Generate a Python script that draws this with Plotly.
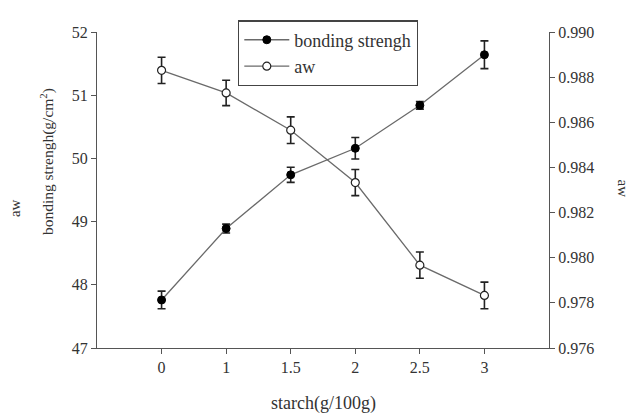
import plotly.graph_objects as go

categories = ["0", "1", "1.5", "2", "2.5", "3"]
bonding = [47.76, 48.89, 49.74, 50.16, 50.84, 51.64]
bonding_err = [0.14, 0.07, 0.12, 0.17, 0.06, 0.22]
aw = [0.98830, 0.98730, 0.98565, 0.98333, 0.97967, 0.97833]
aw_err = [0.00058, 0.00056, 0.00059, 0.00058, 0.00058, 0.00059]

left_ticks = [47, 48, 49, 50, 51, 52]
right_ticks = [0.976, 0.978, 0.980, 0.982, 0.984, 0.986, 0.988, 0.990]

FONT = "Liberation Serif"
AX = "#555555"
LINE = "#6a6a6a"
TXT = "#333333"

fig = go.Figure()
fig.add_trace(go.Scatter(
    x=categories, y=bonding, name="bonding strengh", mode="lines+markers",
    line=dict(color=LINE, width=1.3),
    marker=dict(color="black", size=8, line=dict(color="black", width=1)),
    error_y=dict(type="data", array=bonding_err, color="#222222", thickness=1.6, width=4),
    yaxis="y",
))
fig.add_trace(go.Scatter(
    x=categories, y=aw, name="aw", mode="lines+markers",
    line=dict(color=LINE, width=1.3),
    marker=dict(color="white", size=8, line=dict(color="#222222", width=1.2)),
    error_y=dict(type="data", array=aw_err, color="#222222", thickness=1.6, width=4),
    yaxis="y2",
))

OFF = 8  # page body margin
W, H = 639 - OFF, 417 - OFF
# plot area in page pixels: x 97..549, y 25..348
L = 97 - OFF
R = W - (549 - OFF)
T = 25 - OFF
B = H - (348 - OFF)
pw, ph = W - L - R, H - T - B

def px2paper(px, py):
    fx, fy = px - OFF, py - OFF
    return (fx - L) / pw, (H - B - fy) / ph

tick_font = dict(family=FONT, size=16, color=TXT)

ann = []
x0, y0 = px2paper(323, 405)
ann.append(dict(text="starch(g/100g)", x=x0, y=y0, font=dict(family=FONT, size=18, color=TXT), textangle=0))
x0, y0 = px2paper(47, 158)
ann.append(dict(text="bonding strengh(g/cm<sup>2</sup>)", x=x0, y=y0, textangle=-90,
                font=dict(family=FONT, size=15.5, color=TXT)))
x0, y0 = px2paper(15, 205)
ann.append(dict(text="aw", x=x0, y=y0, textangle=-90, font=dict(family=FONT, size=15, color=TXT)))
x0, y0 = px2paper(623, 185)
ann.append(dict(text="aw", x=x0, y=y0, textangle=90, font=dict(family=FONT, size=15, color=TXT)))
for a in ann:
    a.update(xref="paper", yref="paper", xanchor="center", yanchor="middle", showarrow=False)

lx, ly = px2paper(238, 13)

fig.update_layout(
    width=W, height=H,
    margin=dict(l=L, r=R, t=T, b=B),
    paper_bgcolor="white", plot_bgcolor="white",
    font=dict(family=FONT, size=15, color=TXT),
    showlegend=True,
    legend=dict(
        x=lx, y=ly, xanchor="left", yanchor="top",
        bordercolor="#444444", borderwidth=1.3, bgcolor="white",
        font=dict(family=FONT, size=18, color=TXT),
        tracegroupgap=0, itemwidth=45,
    ),
    xaxis=dict(
        type="category", range=[-1, 6], showgrid=False, zeroline=False,
        showline=True, linecolor=AX, linewidth=1.3,
        ticks="outside", ticklen=5, tickcolor=AX, tickwidth=1,
        tickfont=tick_font,
    ),
    yaxis=dict(
        range=[47, 52], tickvals=left_ticks, showgrid=False, zeroline=False,
        showline=True, linecolor=AX, linewidth=1.3,
        ticks="outside", ticklen=5, tickcolor=AX, tickwidth=1,
        tickfont=tick_font,
    ),
    yaxis2=dict(
        range=[0.976, 0.990], tickvals=right_ticks, tickformat=".3f",
        overlaying="y", side="right", showgrid=False, zeroline=False,
        showline=True, linecolor=AX, linewidth=1.3,
        ticks="outside", ticklen=5, tickcolor=AX, tickwidth=1,
        tickfont=tick_font,
    ),
    annotations=ann,
)

fig.write_html("out.html")
